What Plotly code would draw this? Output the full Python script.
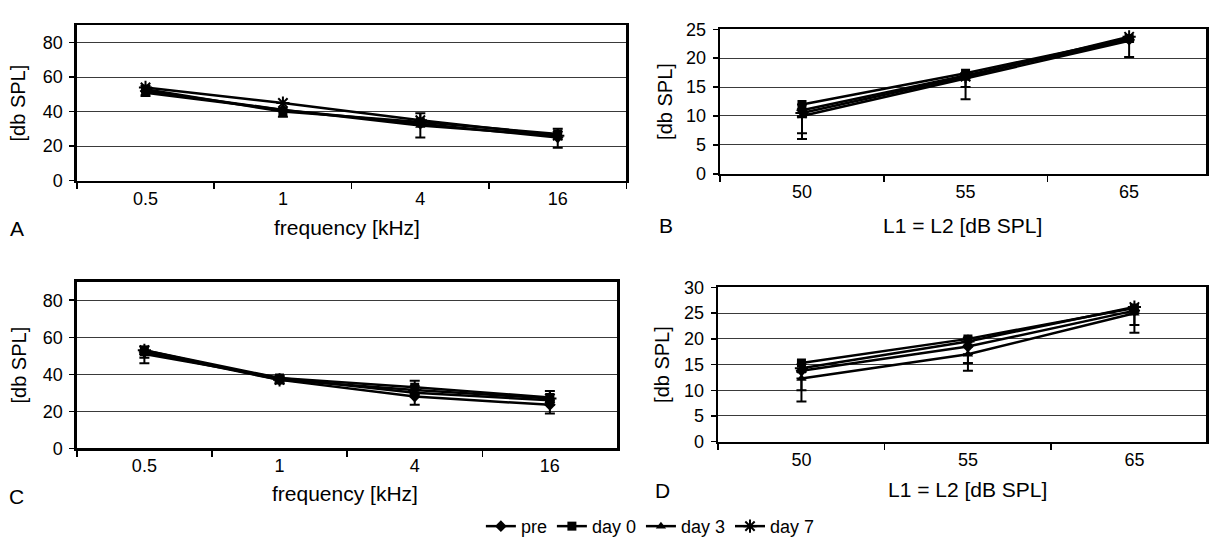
import plotly.graph_objects as go

W, H = 1209, 548

# ---------------- data ----------------
series_names = ["pre", "day 0", "day 3", "day 7"]
freq_labels = ["0.5", "1", "4", "16"]
level_labels = ["50", "55", "65"]
y_ticks_freq = [0, 20, 40, 60, 80]
y_ticks_B = [0, 5, 10, 15, 20, 25]
y_ticks_D = [0, 5, 10, 15, 20, 25, 30]

# Panel A (frequency)
A_pre = [52, 41, 33, 25]
A_day0 = [53, 40, 34, 27]
A_day3 = [51, 41, 32, 26]
A_day7 = [54, 45, 35, 26]
A_pre_err_plus = [3, 4, 6, 5]
A_pre_err_minus = [3, 4, 8, 6]

# Panel B (level)
B_pre = [11, 17, 23.2]
B_day0 = [12, 17.4, 23.4]
B_day3 = [10, 16.5, 23.0]
B_day7 = [10.5, 16.8, 23.7]
B_day3_err_minus = [4, 3.6, 0]
B_day7_err_minus = [3.5, 1.8, 0]
B_day0_err_minus = [0, 0, 3.2]

# Panel C (frequency)
C_pre = [52, 37, 28, 23.5]
C_day0 = [53, 38, 33, 27.5]
C_day3 = [51, 38, 30, 26]
C_day7 = [53, 37, 31.5, 27]
C_pre_err_plus = [3, 2, 0, 0]
C_pre_err_minus = [3, 2, 4.5, 4.7]
C_day3_err_plus = [0, 0, 6.5, 5]
C_day3_err_minus = [5, 2, 0, 0]

# Panel D (level)
D_pre = [13.8, 18.5, 25.5]
D_day0 = [15.3, 20, 26]
D_day3 = [12.3, 17, 25]
D_day7 = [14.3, 19.5, 26.2]
D_pre_err_minus = [6, 3.2, 2.8]
D_day3_err_minus = [2.3, 3.2, 3.8]

symbols = ["diamond", "square", "triangle-up", "asterisk-open"]
FONT = "Liberation Sans, Arial, sans-serif"

fig = go.Figure()


def px2x(px):
    return px / W


def px2y(py):
    return 1 - py / H


def add_series(xlabels, values, idx, xa, ya, plus=None, minus=None, show=False):
    err = None
    if plus is not None or minus is not None:
        p = plus if plus is not None else [0] * len(values)
        m = minus if minus is not None else [0] * len(values)
        err = dict(type="data", symmetric=False, array=p, arrayminus=m,
                   color="black", thickness=2, width=5)
    sym = symbols[idx]
    marker = dict(symbol=sym, size=9 if sym != "asterisk-open" else 11, color="black",
                  line=dict(color="black", width=2 if sym == "asterisk-open" else 0))
    fig.add_trace(go.Scatter(
        x=xlabels, y=values, mode="lines+markers", name=series_names[idx],
        line=dict(color="black", width=2.5), marker=marker,
        error_y=err, xaxis=xa, yaxis=ya, showlegend=show,
        legendgroup=series_names[idx]))


# A
add_series(freq_labels, A_pre, 0, "x", "y", A_pre_err_plus, A_pre_err_minus, show=True)
add_series(freq_labels, A_day0, 1, "x", "y", show=True)
add_series(freq_labels, A_day3, 2, "x", "y", show=True)
add_series(freq_labels, A_day7, 3, "x", "y", show=True)
# B
add_series(level_labels, B_pre, 0, "x2", "y2")
add_series(level_labels, B_day0, 1, "x2", "y2", None, B_day0_err_minus)
add_series(level_labels, B_day3, 2, "x2", "y2", None, B_day3_err_minus)
add_series(level_labels, B_day7, 3, "x2", "y2", None, B_day7_err_minus)
# C
add_series(freq_labels, C_pre, 0, "x3", "y3", C_pre_err_plus, C_pre_err_minus)
add_series(freq_labels, C_day0, 1, "x3", "y3")
add_series(freq_labels, C_day3, 2, "x3", "y3", C_day3_err_plus, C_day3_err_minus)
add_series(freq_labels, C_day7, 3, "x3", "y3")
# D
add_series(level_labels, D_pre, 0, "x4", "y4", None, D_pre_err_minus)
add_series(level_labels, D_day0, 1, "x4", "y4")
add_series(level_labels, D_day3, 2, "x4", "y4", None, D_day3_err_minus)
add_series(level_labels, D_day7, 3, "x4", "y4")

tickfont = dict(family=FONT, size=18, color="black")


def xaxis(domain, rng, anchor, cats):
    return dict(domain=domain, range=rng, anchor=anchor, type="category",
                categoryorder="array", categoryarray=cats,
                tickson="boundaries", ticks="outside", ticklen=6, tickwidth=1.5,
                tickcolor="black", showgrid=False, showline=True, linecolor="black",
                linewidth=2.5, mirror=True, tickfont=tickfont, zeroline=False,
                ticklabelstandoff=0, fixedrange=True)


def yaxis(domain, rng, anchor, tv):
    return dict(domain=domain, range=rng, anchor=anchor, tickvals=tv,
                ticks="outside", ticklen=5, tickwidth=1.5, tickcolor="black",
                showgrid=True, gridcolor="#3a3a3a", gridwidth=1,
                showline=True, linecolor="black", linewidth=2.5, mirror=True,
                tickfont=tickfont, zeroline=False, ticklabelstandoff=3,
                fixedrange=True)


fig.update_layout(
    width=W, height=H,
    margin=dict(l=0, r=0, t=0, b=0),
    paper_bgcolor="white", plot_bgcolor="white",
    font=dict(family=FONT, size=18, color="black"),
    xaxis=xaxis([px2x(77), px2x(628)], [-0.5, 3.5], "y", freq_labels),
    yaxis=yaxis([px2y(177), px2y(16)], [0, 90], "x", y_ticks_freq),
    xaxis2=xaxis([px2x(722), 1.0], [-0.5, 2.47], "y2", level_labels),
    yaxis2=yaxis([px2y(170), px2y(20)], [0, 25], "x2", y_ticks_B),
    xaxis3=xaxis([px2x(77), px2x(619)], [-0.5, 3.5], "y3", freq_labels),
    yaxis3=yaxis([px2y(455), px2y(282)], [0, 90], "x3", y_ticks_freq),
    xaxis4=xaxis([px2x(720), 1.0], [-0.5, 2.43], "y4", level_labels),
    yaxis4=yaxis([px2y(448), px2y(288)], [0, 30], "x4", y_ticks_D),
    legend=dict(orientation="h", x=px2x(652), y=px2y(536), xanchor="center",
                yanchor="middle", font=dict(family=FONT, size=18, color="black"),
                bgcolor="rgba(0,0,0,0)", itemwidth=30, tracegroupgap=0),
    showlegend=True,
)

ann = []


def text(x, y, s, angle=0, size=19):
    ann.append(dict(x=px2x(x), y=px2y(y), xref="paper", yref="paper", text=s,
                    showarrow=False, textangle=angle, xanchor="center",
                    yanchor="middle", font=dict(family=FONT, size=size, color="black")))


# y-axis titles
text(19, 96, "[db SPL]", -90, size=20)
text(666, 95, "[db SPL]", -90, size=20)
text(19, 368, "[db SPL]", -90, size=20)
text(663, 368, "[db SPL]", -90, size=20)
# x-axis titles
text(348, 226, "frequency [kHz]", size=21)
text(965, 224, "L1 = L2 [dB SPL]", size=21)
text(346, 502, "frequency [kHz]", size=21)
text(970, 498, "L1 = L2 [dB SPL]", size=21)
# panel letters
text(17, 227, "A", size=21)
text(668, 224, "B", size=21)
text(17, 505, "C", size=21)
text(664, 499, "D", size=21)

fig.update_layout(annotations=ann)
fig.write_html("out.html", config={"displayModeBar": False, "staticPlot": True},
               post_script="document.body.style.margin='0';document.body.style.overflow='hidden';")
